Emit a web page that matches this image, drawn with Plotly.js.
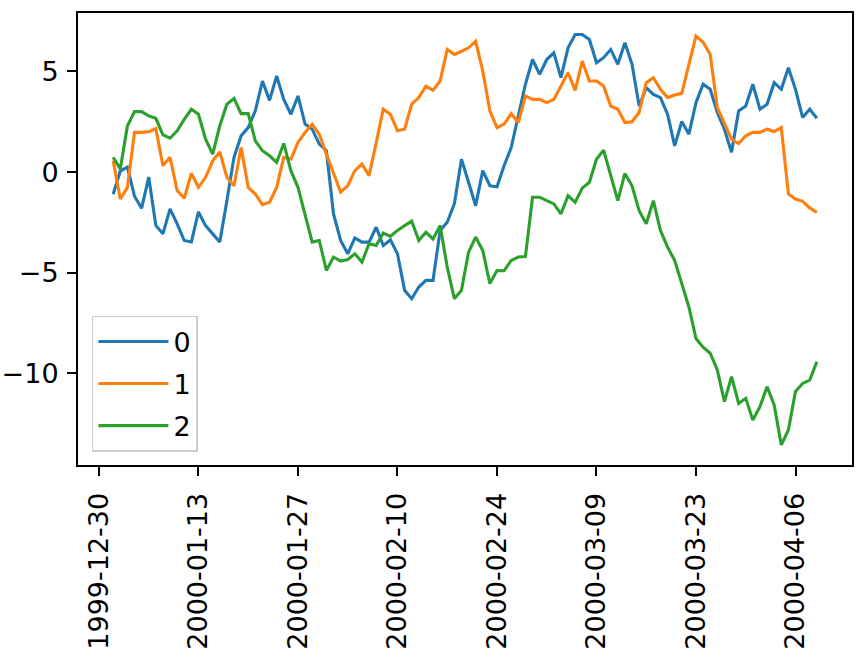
<!DOCTYPE html>
<html>
<head>
<meta charset="utf-8">
<script src="https://cdn.plot.ly/plotly-3.0.1.min.js"></script>
<style>html,body{margin:0;padding:0;background:#fff;}#chart{width:862px;height:657px;}</style>
</head>
<body>
<div id="chart"></div>
<script>
// daily index: 100 days starting 2000-01-01
const startDate = '2000-01-01';
const nDays = 100;

const seriesNames = ['0', '1', '2'];

const s0 = [-1.1, 0.05, 0.25, -1.2, -1.8, -0.25, -2.65, -3.07, -1.83, -2.57, -3.4, -3.47, -1.98, -2.66, -3.07, -3.47,
  -1.42, 0.73, 1.8, 2.21, 3.04, 4.52, 3.56, 4.77, 3.61, 2.87, 3.78, 2.38, 2.13, 1.39, 1.06, -2.08,
  -3.4, -4.06, -3.27, -3.48, -3.48, -2.74, -3.65, -3.37, -4.06, -5.87, -6.29, -5.71, -5.38, -5.38, -2.9, -2.49, -1.58, 0.64,
  -0.51, -1.67, 0.07, -0.68, -0.73, 0.31, 1.22, 2.87, 4.36, 5.59, 4.85, 5.59, 5.92, 4.69, 6.17, 6.83, 6.83,
  6.58, 5.43, 5.68, 6.09, 5.35, 6.42, 5.35, 3.28, 4.19, 3.86, 3.7, 2.87, 1.3, 2.51, 1.88, 3.45, 4.36,
  4.11, 2.96, 2.13, 0.98, 3.04, 3.28, 4.36, 3.12, 3.37, 4.44, 4.11, 5.18, 4.11, 2.71, 3.12, 2.67];

const s1 = [0.56, -1.34, -0.76, 1.97, 1.97, 2.0, 2.16, 0.31, 0.73, -0.92, -1.3, -0.07, -0.76, -0.26, 0.56, 1.0,
  -0.26, -0.68, 1.22, -0.76, -1.09, -1.62, -1.5, -0.76, 0.73, 0.64, 1.47, 1.97, 2.38, 1.88, 0.89, -0.1,
  -1.0, -0.68, 0.07, 0.4, -0.18, 1.45, 3.12, 2.87, 2.05, 2.13, 3.37, 3.7, 4.27, 4.06, 4.52, 6.09, 5.84, 6.0,
  6.17, 6.5, 5.01, 3.04, 2.21, 2.38, 2.9, 2.46, 3.78, 3.61, 3.61, 3.45, 3.61, 4.27, 4.93, 4.06, 5.51,
  4.52, 4.52, 4.27, 3.28, 3.12, 2.46, 2.5, 2.96, 4.44, 4.69, 4.11, 3.7, 3.83, 3.91, 5.35, 6.75, 6.45,
  5.84, 3.2, 2.38, 1.63, 1.42, 1.8, 1.97, 1.97, 2.13, 2.01, 2.21, -1.09, -1.34, -1.45, -1.78, -2.0];

const s2 = [0.73, 0.15, 2.29, 3.0, 3.0, 2.79, 2.67, 1.85, 1.68, 2.05, 2.62, 3.12, 2.87, 1.63, 0.89, 2.3,
  3.37, 3.66, 2.9, 2.9, 1.55, 1.06, 0.81, 0.48, 1.42, 0.07, -0.76, -2.08, -3.48, -3.4, -4.89, -4.22,
  -4.42, -4.35, -4.06, -4.47, -3.56, -3.65, -3.03, -3.2, -2.9, -2.66, -2.44, -3.4, -2.99, -3.32, -2.66, -4.72, -6.29, -5.87,
  -3.98, -3.23, -3.9, -5.54, -4.89, -4.9, -4.39, -4.22, -4.2, -1.25, -1.25, -1.42, -1.58, -2.08, -1.17, -1.5, -0.8,
  -0.51, 0.64, 1.09, -0.18, -1.42, -0.07, -0.68, -1.92, -2.57, -1.42, -2.9, -3.73, -4.39, -5.54, -6.7, -8.27, -8.7,
  -9.0, -9.83, -11.4, -10.16, -11.49, -11.24, -12.31, -11.65, -10.66, -11.57, -13.55, -12.81, -10.9, -10.5, -10.33, -9.42];

const xTickVals = ['1999-12-30', '2000-01-13', '2000-01-27', '2000-02-10', '2000-02-24', '2000-03-09', '2000-03-23', '2000-04-06'];
const xTickText = ['1999-12-30', '2000-01-13', '2000-01-27', '2000-02-10', '2000-02-24', '2000-03-09', '2000-03-23', '2000-04-06'];
const yTickVals = [-10, -5, 0, 5];

const colors = ['#1f77b4', '#ff7f0e', '#2ca02c'];

// build date index
const dates = [];
{
  const d0 = new Date(startDate + 'T00:00:00Z');
  for (let i = 0; i < nDays; i++) {
    const d = new Date(d0.getTime() + i * 86400000);
    dates.push(d.toISOString().slice(0, 10));
  }
}

const allSeries = [s0, s1, s2];
const traces = allSeries.map((s, k) => ({
  x: dates, y: s, type: 'scatter', mode: 'lines', name: seriesNames[k],
  legendgroup: 'g' + k,
  line: {color: colors[k], width: 3.1}
}));

const fontFam = 'DejaVu Sans, sans-serif';
const layout = {
  width: 862, height: 657,
  margin: {l: 78, r: 10, t: 13, b: 192, pad: 0},
  paper_bgcolor: '#ffffff', plot_bgcolor: '#ffffff',
  font: {family: fontFam, size: 27, color: '#000'},
  showlegend: true,
  legend: {
    x: 0.018, y: 0.029, xanchor: 'left', yanchor: 'bottom',
    bgcolor: 'rgba(255,255,255,0.8)', bordercolor: '#cccccc', borderwidth: 1.5,
    font: {family: fontFam, size: 27, color: '#000'},
    traceorder: 'grouped', tracegroupgap: 4,
    itemwidth: 70
  },
  xaxis: {
    type: 'date',
    range: ['1999-12-27 01:12', '2000-04-13 22:48'],
    tickvals: xTickVals, ticktext: xTickText, tickangle: -90,
    ticks: 'outside', ticklen: 9, tickwidth: 2, tickcolor: '#000',
    ticklabelstandoff: 6,
    showline: true, linewidth: 2, linecolor: '#000', mirror: true,
    showgrid: false, zeroline: false,
    tickfont: {family: fontFam, size: 27, color: '#000'}
  },
  yaxis: {
    range: [-14.55, 7.9],
    tickvals: yTickVals,
    ticks: 'outside', ticklen: 9, tickwidth: 2, tickcolor: '#000',
    ticklabelstandoff: 3,
    showline: true, linewidth: 2, linecolor: '#000', mirror: true,
    showgrid: false, zeroline: false,
    tickfont: {family: fontFam, size: 27, color: '#000'}
  }
};

Plotly.newPlot('chart', traces, layout, {displayModeBar: false, staticPlot: true});
</script>
</body>
</html>
